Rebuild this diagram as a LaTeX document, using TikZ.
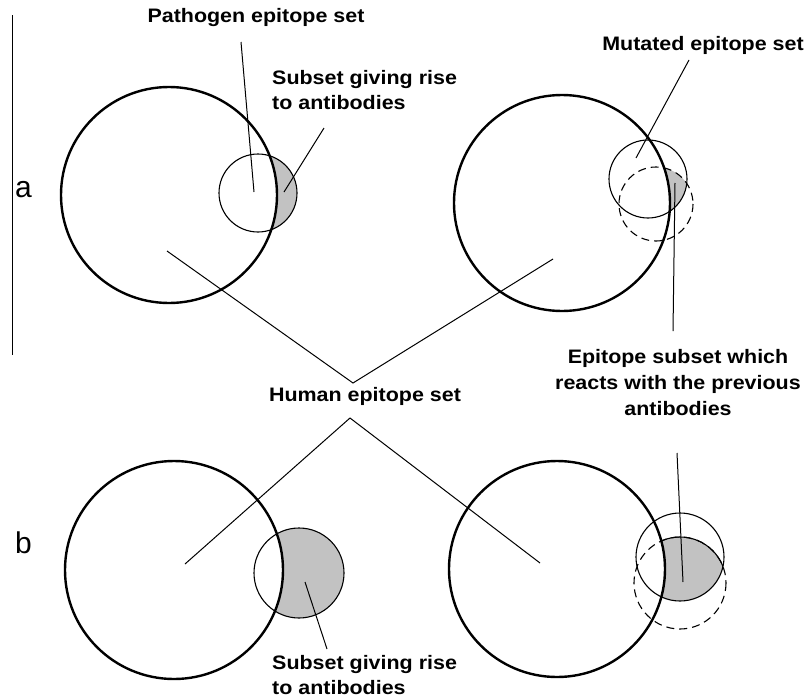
\documentclass[tikz,border=0pt]{standalone}
\usepackage{fontspec}
\setmainfont{Liberation Sans}
\newfontfamily\lblfont[FakeStretch=1.1]{Liberation Sans}
\begin{document}
\begin{tikzpicture}[x=1pt,y=-1pt,
  bigc/.style={line width=2.4pt},
  smallc/.style={line width=1.1pt},
  dashc/.style={line width=1.1pt, dash pattern=on 8pt off 5pt},
  lbl/.style={font=\lblfont\fontsize{19.5}{25}\selectfont\bfseries, inner sep=0pt},
  conn/.style={line width=1pt},
  side/.style={font=\fontsize{30}{30}\selectfont, inner sep=0pt},
  shade/.style={fill=black!24}]
\useasboundingbox (0,0) rectangle (806,699);

% ---- circle centres
\coordinate (A) at (169,195);   % top-left big
\coordinate (As) at (258,193);  % top-left small
\coordinate (B) at (562,203);   % top-right big
\coordinate (Bs) at (648,179);  % top-right solid small
\coordinate (Bd) at (656,204);  % top-right dashed small
\coordinate (C) at (174,570);   % bottom-left big
\coordinate (Cs) at (299,573);  % bottom-left small
\coordinate (D) at (557,569);   % bottom-right big
\coordinate (Ds) at (680,557);  % bottom-right solid small
\coordinate (Dd) at (680,583);  % bottom-right dashed small

% ---- shaded regions
\begin{scope}
  \clip (As) circle[radius=39];
  \fill[shade, even odd rule] (0,0) rectangle (806,699) (A) circle[radius=108];
\end{scope}
\begin{scope}
  \clip (Bs) circle[radius=39];
  \clip (Bd) circle[radius=37];
  \fill[shade, even odd rule] (0,0) rectangle (806,699) (B) circle[radius=108];
\end{scope}
\begin{scope}
  \clip (Cs) circle[radius=45];
  \fill[shade, even odd rule] (0,0) rectangle (806,699) (C) circle[radius=109];
\end{scope}
\begin{scope}
  \clip (Ds) circle[radius=44];
  \clip (Dd) circle[radius=46];
  \fill[shade, even odd rule] (0,0) rectangle (806,699) (D) circle[radius=108];
\end{scope}
% solid border of the shaded region (bottom right)
\begin{scope}[even odd rule]
  \clip (Ds) circle[radius=44];
  \clip (0,0) rectangle (806,699) (D) circle[radius=108];
  \draw[smallc] (Dd) circle[radius=46];
\end{scope}

% ---- circles
\draw[bigc] (A) circle[radius=108];
\draw[smallc] (As) circle[radius=39];
\draw[bigc] (B) circle[radius=108];
\draw[smallc] (Bs) circle[radius=39];
\draw[dashc] (Bd) circle[radius=37];
\draw[bigc] (C) circle[radius=109];
\draw[smallc] (Cs) circle[radius=45];
\draw[bigc] (D) circle[radius=108];
\draw[smallc] (Ds) circle[radius=44];
\draw[dashc] (Dd) circle[radius=46];

% ---- side marks
\draw[line width=1pt] (12,15) -- (12,355);
\node[side] (la) at (23.5,190) {a};
\node[side] (lb) at (23.5,543) {b};

% ---- labels
\node[lbl] (path) at (256,18) {Pathogen epitope set};
\node[lbl, align=left, anchor=north west] (subA) at (272,70) {Subset giving rise\\to antibodies};
\node[lbl] (mut) at (703,45) {Mutated epitope set};
\node[lbl, align=center, font=\lblfont\fontsize{19.5}{26}\selectfont\bfseries] (epi) at (678,383) {Epitope subset which\\reacts with the previous\\antibodies};
\node[lbl] (hum) at (365,396) {Human epitope set};
\node[lbl, align=left, anchor=north west] (subB) at (272,655) {Subset giving rise\\to antibodies};

% ---- connector end points
\coordinate (pathE1) at (241,42);  \coordinate (pathE2) at (254,192);
\coordinate (subAE1) at (324,128); \coordinate (subAE2) at (284,192);
\coordinate (mutE1) at (689,60);   \coordinate (mutE2) at (636,158);
\coordinate (epiE1) at (673,331);  \coordinate (epiE2) at (675,183);
\coordinate (humTop) at (353,383);
\coordinate (humA) at (167,251);   \coordinate (humB) at (553,259);
\coordinate (humBot) at (350,418);
\coordinate (humC) at (185,564);   \coordinate (humD) at (540,563);
\coordinate (subBE1) at (327,649); \coordinate (subBE2) at (305,582);
\coordinate (epiF1) at (677,453);  \coordinate (epiF2) at (683,582);

% ---- connectors
\draw[conn] (pathE1) -- (pathE2);
\draw[conn] (subAE1) -- (subAE2);
\draw[conn] (mutE1) -- (mutE2);
\draw[conn] (epiE1) -- (epiE2);
\draw[conn] (humA) -- (humTop) -- (humB);
\draw[conn] (humC) -- (humBot) -- (humD);
\draw[conn] (subBE1) -- (subBE2);
\draw[conn] (epiF1) -- (epiF2);
\end{tikzpicture}
\end{document}
